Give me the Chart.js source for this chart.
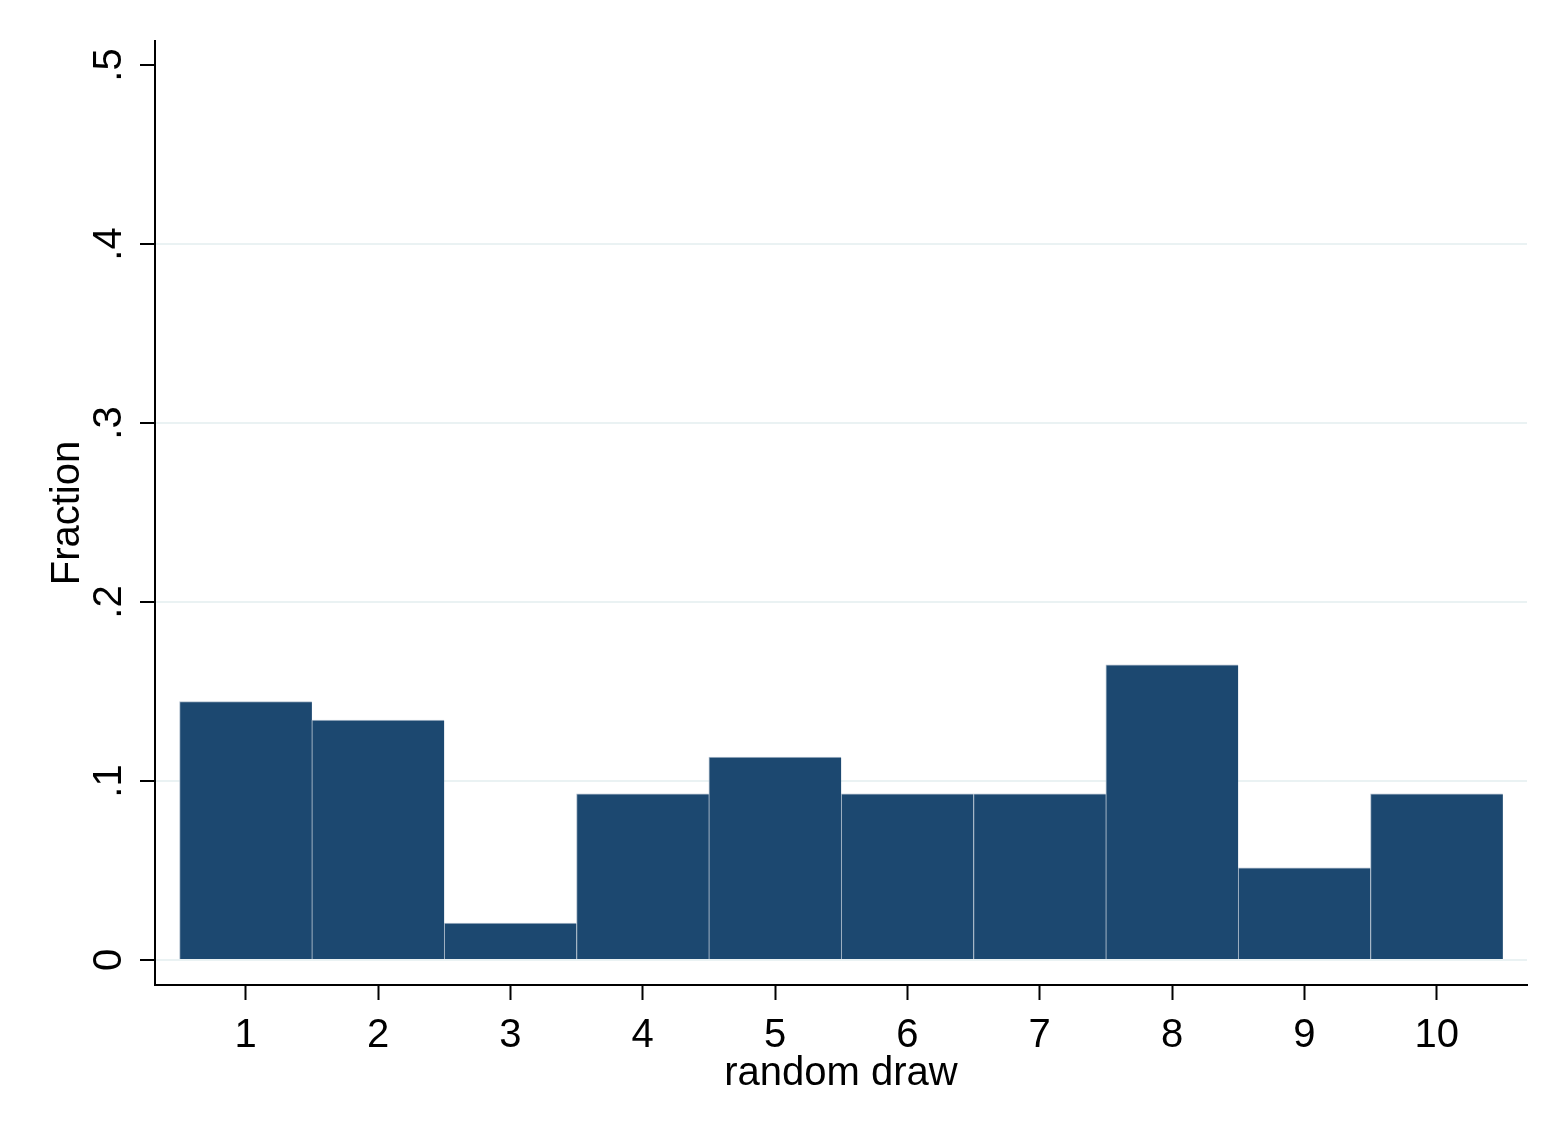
<!DOCTYPE html>
<html>
<head>
<meta charset="utf-8">
<script src="https://cdn.jsdelivr.net/npm/chart.js@4.4.1/dist/chart.umd.min.js"></script>
<style>
  html, body { margin: 0; padding: 0; background: #fff; }
  canvas { display: block; }
</style>
</head>
<body>
<canvas id="histogram" width="1568" height="1141"></canvas>
<script>
// values (fraction of draws per value)
const draws = [1, 2, 3, 4, 5, 6, 7, 8, 9, 10];
const fractions = [0.1443, 0.1340, 0.0206, 0.0928, 0.1134, 0.0928, 0.0928, 0.1649, 0.0515, 0.0928];
const yTickValues = [0, 0.1, 0.2, 0.3, 0.4, 0.5];
const yTickLabels = ['0', '.1', '.2', '.3', '.4', '.5'];
const xTickValues = [1, 2, 3, 4, 5, 6, 7, 8, 9, 10];

const font = 'Arial, "Liberation Sans", sans-serif';
const ctx = document.getElementById('histogram').getContext('2d');

const points = draws.map((d, i) => ({ x: d, y: fractions[i] }));

const chart = new Chart(ctx, {
    type: 'bar',
    data: {
        datasets: [{
            label: 'random draw',
            data: points,
            backgroundColor: '#1c4870',
            borderColor: '#aebdcc',
            borderWidth: { top: 1, left: 1, right: 0, bottom: 0 },
            borderSkipped: false,
            barPercentage: 1,
            categoryPercentage: 1
        }]
    },
    options: {
        responsive: false,
        animation: false,
        devicePixelRatio: 1,
        layout: { padding: { top: 41, right: 41, left: 0, bottom: 0 } },
        plugins: {
            legend: { display: false },
            tooltip: { enabled: false }
        },
        scales: {
            x: {
                type: 'linear',
                offset: false,
                min: 0.3144,
                max: 10.6825,
                afterBuildTicks: scale => {
                    scale.ticks = xTickValues.map(v => ({ value: v }));
                },
                afterFit: scale => { scale.height = 156; },
                grid: {
                    offset: false,
                    drawOnChartArea: false,
                    drawTicks: true,
                    tickLength: 15,
                    tickColor: '#000',
                    tickWidth: 2
                },
                border: { color: '#000', width: 2 },
                ticks: {
                    color: '#000',
                    padding: 12,
                    maxRotation: 0,
                    font: { family: font, size: 40 },
                    callback: v => String(v)
                },
                title: {
                    display: true,
                    text: 'random draw',
                    color: '#000',
                    font: { family: font, size: 40 },
                    padding: { top: 0, bottom: 43 }
                }
            },
            y: {
                type: 'linear',
                min: -0.013966,
                max: 0.513408,
                afterBuildTicks: scale => {
                    scale.ticks = yTickValues.map(v => ({ value: v }));
                },
                afterFit: scale => { scale.width = 155; },
                grid: {
                    color: c => (c.tick && c.tick.value === 0.5) ? 'rgba(0,0,0,0)' : '#eaf2f3',
                    lineWidth: 2,
                    drawTicks: true,
                    tickLength: 15,
                    tickColor: '#000',
                    tickWidth: 2
                },
                border: { color: '#000', width: 2 },
                ticks: {
                    color: '#000',
                    padding: 13,
                    minRotation: 90,
                    maxRotation: 90,
                    crossAlign: 'center',
                    font: { family: font, size: 40 },
                    callback: (v, i) => yTickLabels[i]
                },
                title: {
                    display: true,
                    text: 'Fraction',
                    color: '#000',
                    font: { family: font, size: 40 },
                    padding: { top: 44, bottom: 0 }
                }
            }
        }
    }
});
</script>
</body>
</html>
